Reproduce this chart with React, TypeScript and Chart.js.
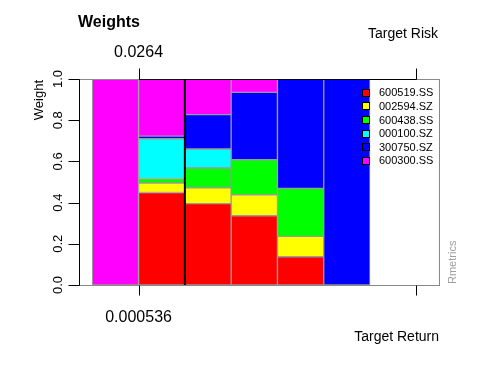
import React, { useEffect, useRef } from "react";
import { Chart, registerables } from "chart.js";

Chart.register(...registerables);

// ---- data ----
const seriesNames = ["600519.SS", "002594.SZ", "600438.SS", "000100.SZ", "300750.SZ", "600300.SS"];
const seriesColors = ["#FF0000", "#FFFF00", "#00FF00", "#00FFFF", "#0000FF", "#FF00FF"];
const portfolioIndex = [1, 2, 3, 4, 5, 6];
const w600519 = [0, 0.449, 0.395, 0.336, 0.137, 0];
const w002594 = [0, 0.046, 0.077, 0.102, 0.099, 0];
const w600438 = [0, 0.022, 0.096, 0.17, 0.233, 0];
const w000100 = [0, 0.193, 0.092, 0, 0, 0];
const w300750 = [0, 0.013, 0.167, 0.327, 0.531, 1];
const w600300 = [1, 0.277, 0.173, 0.065, 0, 0];
const weightSeries = [w600519, w002594, w600438, w000100, w300750, w600300];

const yTicks = [0, 0.2, 0.4, 0.6, 0.8, 1.0];
const yTickLabels = ["0.0", "0.2", "0.4", "0.6", "0.8", "1.0"];
const riskTickAt = [1, 7];
const riskTickLabels = ["0.0264", ""];
const returnTickAt = [1, 7];
const returnTickLabels = ["0.000536", ""];
const minVarianceAt = 2;

const FONT = "'Liberation Sans', Arial, Helvetica, sans-serif";

const decorPlugin = {
  id: "decor",
  afterDatasetsDraw(chart: any) {
    const ctx = chart.ctx as CanvasRenderingContext2D;
    const xs = chart.scales.x;
    const ys = chart.scales.y;
    const ca = chart.chartArea;
    const left = Math.round(ca.left) + 0.5;
    const right = Math.round(ca.right) + 0.5;
    const top = Math.round(ca.top) + 0.5;
    const bottom = Math.round(ca.bottom) + 0.5;
    ctx.save();

    // box
    ctx.strokeStyle = "#888888";
    ctx.lineWidth = 1;
    ctx.strokeRect(left, top, right - left, bottom - top);

    // min variance line
    const mx = xs.getPixelForValue(minVarianceAt);
    ctx.strokeStyle = "#000000";
    ctx.lineWidth = 2;
    ctx.beginPath();
    ctx.moveTo(mx, ca.top);
    ctx.lineTo(mx, ca.bottom);
    ctx.stroke();

    // y axis
    ctx.lineWidth = 1;
    ctx.strokeStyle = "#000000";
    ctx.beginPath();
    ctx.moveTo(left, Math.round(ys.getPixelForValue(yTicks[0])) + 0.5);
    ctx.lineTo(left, Math.round(ys.getPixelForValue(yTicks[yTicks.length - 1])) + 0.5);
    yTicks.forEach((t) => {
      const py = Math.round(ys.getPixelForValue(t)) + 0.5;
      ctx.moveTo(left - 11, py);
      ctx.lineTo(left, py);
    });
    ctx.stroke();
    ctx.fillStyle = "#000000";
    ctx.font = `13px ${FONT}`;
    ctx.textAlign = "center";
    ctx.textBaseline = "alphabetic";
    yTicks.forEach((t, i) => {
      const py = ys.getPixelForValue(t);
      ctx.save();
      ctx.translate(62, py);
      ctx.rotate(-Math.PI / 2);
      ctx.fillText(yTickLabels[i], 0, 0);
      ctx.restore();
    });

    // y title
    ctx.save();
    ctx.font = `13px ${FONT}`;
    ctx.textAlign = "right";
    ctx.translate(42.5, ca.top + 1);
    ctx.rotate(-Math.PI / 2);
    ctx.fillText("Weight", 0, 0);
    ctx.restore();

    // top axis (risk)
    ctx.strokeStyle = "#000000";
    ctx.beginPath();
    const tx0 = Math.round(xs.getPixelForValue(riskTickAt[0])) + 0.5;
    const tx1 = Math.round(xs.getPixelForValue(riskTickAt[riskTickAt.length - 1])) + 0.5;
    ctx.moveTo(tx0, top);
    ctx.lineTo(tx1, top);
    riskTickAt.forEach((t) => {
      const px = Math.round(xs.getPixelForValue(t)) + 0.5;
      ctx.moveTo(px, top - 11);
      ctx.lineTo(px, top);
    });
    ctx.stroke();
    ctx.font = `16px ${FONT}`;
    ctx.textAlign = "center";
    riskTickAt.forEach((t, i) => {
      if (riskTickLabels[i]) ctx.fillText(riskTickLabels[i], xs.getPixelForValue(t), 57);
    });

    // bottom axis (return)
    ctx.beginPath();
    returnTickAt.forEach((t) => {
      const px = Math.round(xs.getPixelForValue(t)) + 0.5;
      ctx.moveTo(px, bottom);
      ctx.lineTo(px, bottom + 10);
    });
    ctx.stroke();
    returnTickAt.forEach((t, i) => {
      if (returnTickLabels[i]) ctx.fillText(returnTickLabels[i], xs.getPixelForValue(t), 321.5);
    });

    // titles
    ctx.font = `bold 16px ${FONT}`;
    ctx.textAlign = "left";
    ctx.fillText("Weights", 78, 27);
    ctx.font = `14px ${FONT}`;
    ctx.textAlign = "right";
    ctx.fillText("Target Risk", 438, 38);
    ctx.fillText("Target Return", 439, 341);

    // Rmetrics
    ctx.save();
    ctx.fillStyle = "#A0A0A0";
    ctx.font = `11px ${FONT}`;
    ctx.textAlign = "left";
    ctx.translate(456, 284);
    ctx.rotate(-Math.PI / 2);
    ctx.fillText("Rmetrics", 0, 0);
    ctx.restore();

    // legend
    ctx.font = `11px ${FONT}`;
    ctx.textAlign = "left";
    ctx.textBaseline = "middle";
    seriesNames.forEach((name, i) => {
      const cy = 92.8 + i * 13.6;
      ctx.fillStyle = seriesColors[i];
      ctx.fillRect(362.5, Math.round(cy) - 3.5, 7, 7);
      ctx.strokeStyle = "#000000";
      ctx.lineWidth = 1;
      ctx.strokeRect(362.5, Math.round(cy) - 3.5, 7, 7);
      ctx.fillStyle = "#000000";
      ctx.fillText(name, 379, cy + 0.5);
    });

    ctx.restore();
  },
};

export default function App() {
  const canvasRef = useRef<HTMLCanvasElement | null>(null);

  useEffect(() => {
    if (!canvasRef.current) return;
    const datasets = weightSeries.map((vals, s) => ({
      label: seriesNames[s],
      data: vals.map((v, i) => ({ x: portfolioIndex[i] - 0.5, y: v })),
      backgroundColor: seriesColors[s],
      borderColor: "#9A9A9A",
      borderWidth: 1,
      borderSkipped: false as const,
      categoryPercentage: 1,
      barPercentage: 1,
    }));
    const chart = new Chart(canvasRef.current, {
      type: "bar",
      data: { datasets },
      options: {
        responsive: false,
        animation: false,
        devicePixelRatio: 1,
        layout: { padding: { left: 79, right: 41, top: 79, bottom: 99 } },
        plugins: { legend: { display: false }, tooltip: { enabled: false } },
        scales: {
          x: { type: "linear", min: -0.287, max: 7.49, stacked: true, display: false, offset: false },
          y: { min: 0, max: 1, stacked: true, display: false },
        },
      },
      plugins: [decorPlugin],
    } as any);
    return () => chart.destroy();
  }, []);

  return (
    <div style={{ position: "absolute", left: 0, top: 0, width: 480, height: 384, background: "#fff" }}>
      <canvas ref={canvasRef} width={480} height={384} style={{ display: "block" }} />
    </div>
  );
}
